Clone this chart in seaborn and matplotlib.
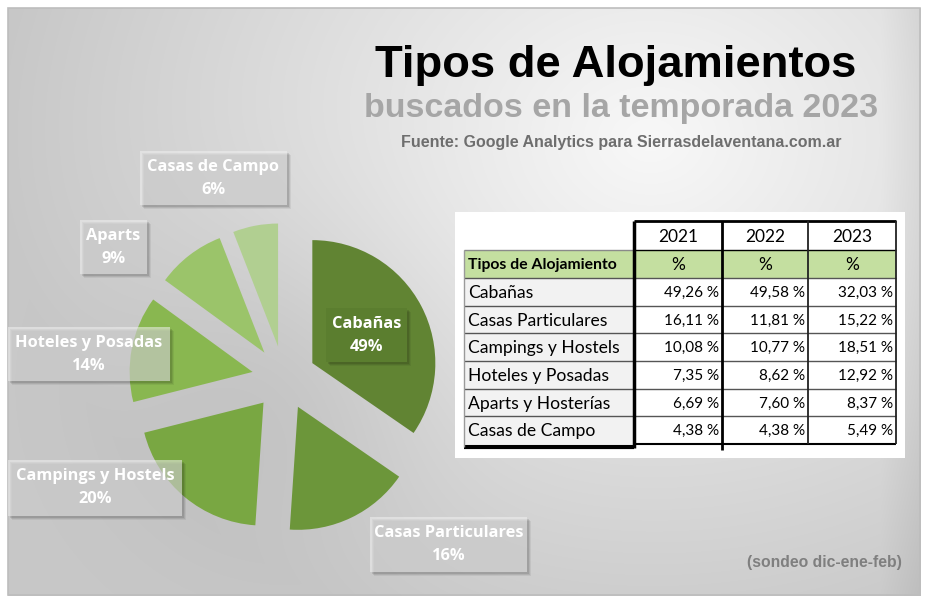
import numpy as np
import matplotlib
matplotlib.use("Agg")
import matplotlib.pyplot as plt
import matplotlib.patches as mpatches
import seaborn as sns

# ---------------- data ----------------
categories = ["Cabañas", "Casas Particulares", "Campings y Hostels",
              "Hoteles y Posadas", "Aparts y Hosterías", "Casas de Campo"]
years = ["2021", "2022", "2023"]
v2021 = [49.26, 16.11, 10.08, 7.35, 6.69, 4.38]
v2022 = [49.58, 11.81, 10.77, 8.62, 7.60, 4.38]
v2023 = [32.03, 15.22, 18.51, 12.92, 8.37, 5.49]
pie_names = ["Cabañas", "Casas Particulares", "Campings y Hostels",
             "Hoteles y Posadas", "Aparts", "Casas de Campo"]
pie_pct_labels = ["49%", "16%", "20%", "14%", "9%", "6%"]
green_hex = ["#618433", "#6c963a", "#79a742", "#89b750", "#9bc46a", "#b1cf91"]

title = "Tipos de Alojamientos"
subtitle = "buscados en la temporada 2023"
source = "Fuente: Google Analytics para Sierrasdelaventana.com.ar"
note = "(sondeo dic-ene-feb)"
header_label = "Tipos de Alojamiento"
unit_label = "%"

# ---------------- setup ----------------
sns.set_theme(style="white")
plt.rcParams["font.family"] = ["Lato", "DejaVu Sans"]
colors = sns.color_palette(green_hex)

W, H = 928, 605
fig = plt.figure(figsize=(W / 100, H / 100), dpi=100)
ax = fig.add_axes([0, 0, 1, 1])


def py(y):
    return H - y


# background gradient
yy, xx = np.mgrid[0:H, 0:W]
d = np.sqrt(((xx - 650) / 620.0) ** 2 + ((yy - 140) / 500.0) ** 2)
val = 248 - 46 * np.clip(d, 0, 1.05)
shade = 14 * np.exp(-(((xx - 284) ** 2 + (yy - 385) ** 2) / (2 * 110.0 ** 2)))
val = val - shade
val = val - 12 * np.clip((xx - 880) / 40.0, 0, 1)
bg = np.stack([val, val, val], axis=-1) / 255.0
mask = (xx < 8) | (xx > 920) | (yy < 8) | (yy > 595)
bg[mask] = 1.0
ax.imshow(bg, extent=(0, W, 0, H), origin="upper", zorder=0, interpolation="bilinear")
ax.add_patch(mpatches.Rectangle((8, py(595)), 912, 587, fill=False,
                                edgecolor="#bdbdbd", lw=1.2, zorder=1))

# ---------------- pie ----------------
cx, cy, r = 284, 378, 123
ax.pie(v2023, startangle=90, counterclock=False, center=(cx, py(cy)), radius=r,
       explode=[32] * len(v2023), colors=colors,
       wedgeprops=dict(linewidth=0, zorder=2), normalize=True)

# ---------------- pie labels ----------------
boxes = [
    (326, 308, 81, 54),    # Cabañas
    (370, 517, 157, 55),   # Casas Particulares
    (8, 460, 174, 56),     # Campings
    (8, 327, 162, 54),     # Hoteles
    (80, 220, 67, 54),     # Aparts
    (140, 151, 147, 54),   # Casas de Campo
]
lfam = ["Open Sans", "DejaVu Sans"]
for i, (bx, by, bw, bh) in enumerate(boxes):
    for k, a in enumerate([0.10, 0.08, 0.06]):
        o = 2 + k
        ax.add_patch(mpatches.Rectangle((bx + o, py(by + bh + o)), bw, bh,
                                        facecolor="black", alpha=a, lw=0, zorder=3))
    if i == 0:
        ax.add_patch(mpatches.Rectangle((bx, py(by + bh)), bw, bh,
                                        facecolor="#5b7e2f", lw=0, zorder=4))
    else:
        ax.add_patch(mpatches.Rectangle((bx, py(by + bh)), bw, bh,
                                        facecolor="#f0f0f0", alpha=0.55, lw=0, zorder=4))
    tx = bx + bw / 2
    ax.text(tx, py(by + 16), pie_names[i], ha="center", va="center", color="white",
            fontsize=11.8, fontweight="bold", family=lfam, zorder=5)
    ax.text(tx, py(by + 39), pie_pct_labels[i], ha="center", va="center", color="white",
            fontsize=11.8, fontweight="bold", family=lfam, zorder=5)

# ---------------- titles ----------------
tfam = ["Liberation Sans", "DejaVu Sans"]
ax.text(616, py(66), title, ha="center", va="center", fontsize=32.7,
        fontweight="bold", color="black", family=tfam, zorder=5)
ax.text(621, py(108), subtitle, ha="center", va="center", fontsize=24.5,
        fontweight="bold", color="#a6a6a6", family=tfam, zorder=5)
ax.text(621, py(143), source, ha="center", va="center", fontsize=11.5,
        fontweight="bold", color="#6e6e6e", family=tfam, zorder=5)
ax.text(824, py(562), note, ha="center", va="center", fontsize=11.3,
        fontweight="bold", color="#7f7f7f", family=tfam, zorder=5)

# ---------------- table ----------------
ax.add_patch(mpatches.Rectangle((455, py(458)), 450, 246, facecolor="white",
                                lw=0, zorder=3))
col_edges = [464, 634, 722, 808, 896]
hdr_top, grn_top, grn_bot = 221, 250, 278
row_h = (444 - 278) / len(categories)
row_edges = [grn_bot + k * row_h for k in range(len(categories) + 1)]

ax.add_patch(mpatches.Rectangle((col_edges[0], py(grn_bot)), col_edges[-1] - col_edges[0],
                                grn_bot - grn_top, facecolor="#c4dfa0", lw=0, zorder=4))
ax.add_patch(mpatches.Rectangle((col_edges[0], py(row_edges[-1])), col_edges[1] - col_edges[0],
                                row_edges[-1] - row_edges[0], facecolor="#f2f2f2", lw=0, zorder=4))

lk = dict(zorder=6, solid_capstyle="butt")
ax.plot([col_edges[1], col_edges[-1]], [py(hdr_top), py(hdr_top)], color="black", lw=2, **lk)
ax.plot([col_edges[1], col_edges[-1]], [py(grn_top), py(grn_top)], color="black", lw=1, **lk)
ax.plot([col_edges[0], col_edges[1]], [py(grn_top), py(grn_top)], color="#8a8a8a", lw=1, **lk)
for yv in row_edges[:-1]:
    ax.plot([col_edges[0], col_edges[-1]], [py(yv), py(yv)], color="#555555", lw=1, **lk)
ax.plot([col_edges[0], col_edges[1]], [py(447), py(447)], color="black", lw=3, **lk)
ax.plot([col_edges[1], col_edges[-1]], [py(444), py(444)], color="black", lw=1.5, **lk)
ax.plot([col_edges[0], col_edges[0]], [py(grn_top), py(447)], color="#9a9a9a", lw=1, **lk)
ax.plot([col_edges[1], col_edges[1]], [py(hdr_top), py(448)], color="black", lw=2.5, **lk)
ax.plot([col_edges[2], col_edges[2]], [py(hdr_top), py(450)], color="black", lw=2, **lk)
ax.plot([col_edges[3], col_edges[3]], [py(hdr_top), py(444)], color="#222222", lw=1.3, **lk)
ax.plot([col_edges[4], col_edges[4]], [py(hdr_top), py(444)], color="#222222", lw=1.3, **lk)

for j, yr in enumerate(years):
    xc = (col_edges[j + 1] + col_edges[j + 2]) / 2
    ax.text(xc, py((hdr_top + grn_top) / 2 + 1), yr, ha="center", va="center",
            fontsize=12.5, color="black", zorder=7)
    ax.text(xc, py((grn_top + grn_bot) / 2 + 1), unit_label, ha="center", va="center",
            fontsize=12.5, color="black", zorder=7)
ax.text(col_edges[0] + 4, py((grn_top + grn_bot) / 2 + 1), header_label, ha="left",
        va="center", fontsize=11.3, fontweight="bold", color="black", zorder=7)

cols = [v2021, v2022, v2023]
for i, cat in enumerate(categories):
    yc = (row_edges[i] + row_edges[i + 1]) / 2 + 1
    ax.text(col_edges[0] + 4, py(yc), cat, ha="left", va="center", fontsize=12.6,
            color="black", zorder=7)
    for j, col in enumerate(cols):
        s = f"{col[i]:.2f} %".replace(".", ",")
        ax.text(col_edges[j + 2] - 3, py(yc), s, ha="right", va="center",
                fontsize=11, color="black", zorder=7)

ax.set_xlim(0, W)
ax.set_ylim(0, H)
ax.set_aspect("auto")
ax.axis("off")
fig.savefig("out.png", dpi=100)
